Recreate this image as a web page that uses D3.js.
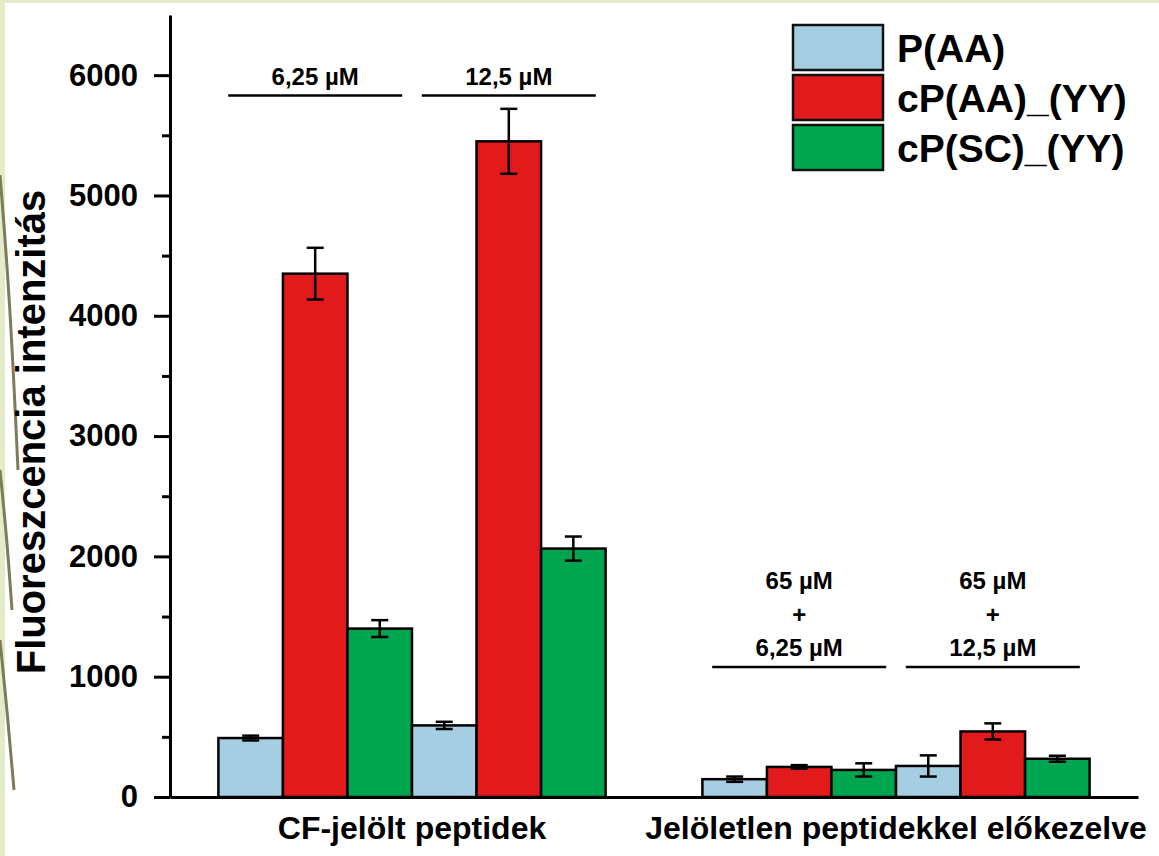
<!DOCTYPE html>
<html><head><meta charset="utf-8">
<script src="https://cdn.jsdelivr.net/npm/d3@7"></script>
<style>
html,body{margin:0;padding:0;background:#e3ebc9;}
svg{display:block;}
text{font-family:"Liberation Sans",Arial,sans-serif;font-weight:bold;fill:#000;}
</style>
</head><body>
<svg id="chart" width="1159" height="856"></svg>
<script>
// ---- data ----
const groups = ["CF-jelölt peptidek", "Jelöletlen peptidekkel előkezelve"];
const conditions = ["c1", "c2", "c3", "c4"];
const conditionGroup = [0, 0, 1, 1];
const conditionLabels = [["6,25 µM"], ["12,5 µM"], ["65 µM", "+", "6,25 µM"], ["65 µM", "+", "12,5 µM"]];
const series = ["P(AA)", "cP(AA)_(YY)", "cP(SC)_(YY)"];
const seriesColors = ["#a6cee3", "#e31a1c", "#00a64f"];
const paaValues  = [490, 595, 148, 258];
const paaErrors  = [20, 30, 22, 88];
const cpaaValues = [4350, 5450, 250, 545];
const cpaaErrors = [215, 270, 15, 67];
const cpscValues = [1400, 2065, 225, 318];
const cpscErrors = [70, 100, 55, 25];
const majorTicks = [0, 1000, 2000, 3000, 4000, 5000, 6000];
const minorTicks = [500, 1500, 2500, 3500, 4500, 5500];
const yTitle = "Fluoreszcencia intenzitás";

const valuesBySeries = [paaValues, cpaaValues, cpscValues];
const errorsBySeries = [paaErrors, cpaaErrors, cpscErrors];

const rows = [];
conditions.forEach((c, ci) => {
  series.forEach((s, si) => {
    rows.push({cond: ci, group: conditionGroup[ci], series: si,
               value: valuesBySeries[si][ci], err: errorsBySeries[si][ci]});
  });
});

// ---- layout ----
const svg = d3.select("#chart");
svg.append("rect").attr("x", 5).attr("y", 3).attr("width", 1154).attr("height", 853).attr("fill", "#fff");

// decorative slide strokes at the left edge
const deco = svg.append("g").attr("stroke", "#7f7a5a").attr("fill", "none").attr("stroke-width", 3);
[[[0,175],[10,300],[18,470]], [[0,470],[7,540],[12,610]], [[0,640],[8,720],[14,790]]].forEach(p => {
  deco.append("path").attr("d", d3.line().curve(d3.curveBasis)(p));
});

const axisLeftX = 170, xRight = 1138;
const y = d3.scaleLinear().domain([0, 6500]).range([797, 15]);
const x0 = d3.scaleBand().domain(groups).range([axisLeftX, xRight]).paddingInner(0.2).paddingOuter(0.1);
const x1 = d3.scaleBand().domain([0, 1]).range([0, x0.bandwidth()]);
const x2 = d3.scaleBand().domain([0, 1, 2]).range([0, x1.bandwidth()]);

const condX = ci => x0(groups[conditionGroup[ci]]) + x1(ci % 2);

// bars
svg.append("g").selectAll("rect").data(rows).join("rect")
  .attr("x", d => condX(d.cond) + x2(d.series))
  .attr("y", d => y(d.value))
  .attr("width", x2.bandwidth())
  .attr("height", d => y(0) - y(d.value))
  .attr("fill", d => seriesColors[d.series])
  .attr("stroke", "#000").attr("stroke-width", 2.5);

// error bars
const eb = svg.append("g").attr("stroke", "#000").attr("stroke-width", 2.5);
rows.forEach(d => {
  const cx = condX(d.cond) + x2(d.series) + x2.bandwidth() / 2;
  eb.append("line").attr("x1", cx).attr("x2", cx).attr("y1", y(d.value - d.err)).attr("y2", y(d.value + d.err));
  [d.value - d.err, d.value + d.err].forEach(v => {
    eb.append("line").attr("x1", cx - 8.5).attr("x2", cx + 8.5).attr("y1", y(v)).attr("y2", y(v));
  });
});

// y axis
const yAxis = svg.append("g").attr("transform", `translate(${axisLeftX},0)`)
  .call(d3.axisLeft(y).tickValues(majorTicks).tickSize(16).tickPadding(16).tickSizeOuter(0).tickFormat(d3.format("d")));
yAxis.select(".domain").attr("stroke-width", 3);
yAxis.selectAll(".tick line").attr("stroke-width", 3);
yAxis.selectAll(".tick text").attr("font-size", 31).attr("font-family", null);

const yMinor = svg.append("g").attr("transform", `translate(${axisLeftX},0)`)
  .call(d3.axisLeft(y).tickValues(minorTicks).tickSize(8).tickFormat(""));
yMinor.select(".domain").remove();
yMinor.selectAll(".tick line").attr("stroke-width", 3);

// x axis
const xAxis = svg.append("g").attr("transform", `translate(0,${y(0)})`)
  .call(d3.axisBottom(x0).tickSize(0).tickPadding(19).tickSizeOuter(0));
xAxis.select(".domain").attr("stroke-width", 3);
xAxis.selectAll(".tick text").attr("font-size", 32).attr("font-family", null);

// y title
svg.append("text").attr("transform", "translate(45,432) rotate(-90)")
  .attr("text-anchor", "middle").attr("font-size", 40).text(yTitle);

// concentration annotations
const annLineY = [5830, 5830, 1080, 1080];
conditionLabels.forEach((lines, ci) => {
  const cx = condX(ci) + x1.bandwidth() / 2;
  const ly = y(annLineY[ci]);
  svg.append("line").attr("x1", cx - 87).attr("x2", cx + 87).attr("y1", ly).attr("y2", ly)
    .attr("stroke", "#000").attr("stroke-width", 2.5);
  lines.forEach((t, li) => {
    svg.append("text").attr("x", cx).attr("y", ly - 11 - (lines.length - 1 - li) * 33.5)
      .attr("text-anchor", "middle").attr("font-size", 24).text(t);
  });
});

// legend
const legend = svg.append("g").attr("transform", "translate(793,25)");
series.forEach((s, i) => {
  legend.append("rect").attr("x", 0).attr("y", i * 50).attr("width", 90).attr("height", 45)
    .attr("fill", seriesColors[i]).attr("stroke", "#111").attr("stroke-width", 2.5);
  legend.append("text").attr("x", 104).attr("y", i * 50 + 37).attr("font-size", 39).text(s);
});
</script>
</body></html>
